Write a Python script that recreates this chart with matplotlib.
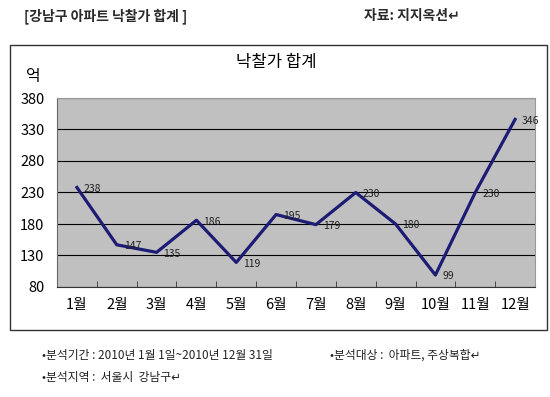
import matplotlib
matplotlib.use("Agg")
import matplotlib.pyplot as plt
from matplotlib.patches import Rectangle

plt.rcParams['font.family'] = ['Noto Sans CJK KR', 'DejaVu Sans']

# 데이터
months = ['1월', '2월', '3월', '4월', '5월', '6월', '7월', '8월', '9월', '10월', '11월', '12월']
values = [238, 147, 135, 186, 119, 195, 179, 230, 180, 99, 230, 346]
yticks = [80, 130, 180, 230, 280, 330, 380]

W, H = 550, 397
fig = plt.figure(figsize=(W / 100, H / 100), dpi=100)
fig.patch.set_facecolor('white')

def fx(px):
    return px / W

def fy(py):
    return 1 - py / H

# 머리글
fig.text(fx(24), fy(16), '[강남구 아파트 낙찰가 합계 ]', fontsize=10, fontweight='bold',
         va='center', ha='left', color='#2a2a2a')
fig.text(fx(364), fy(16), '자료: 지지옥션\u21b5', fontsize=10, fontweight='bold',
         va='center', ha='left', color='#2a2a2a')

# 차트 테두리
box = Rectangle((fx(10), fy(330)), fx(537), 285 / H, transform=fig.transFigure,
                fill=False, edgecolor='#333333', linewidth=1.0)
fig.patches.append(box)

fig.text(fx(276), fy(62), '낙찰가 합계', fontsize=12, ha='center', va='center')
fig.text(fx(33), fy(77), '억', fontsize=11.5, ha='center', va='center')

# 플롯 영역
ax = fig.add_axes([fx(57), fy(287), 478 / W, (287 - 98) / H])
ax.set_facecolor('#c0c0c0')
x = list(range(len(months)))
ax.plot(x, values, color='#1c1c74', linewidth=2.3, solid_joinstyle='round')
for xi, v in zip(x, values):
    ax.annotate(str(v), (xi, v), xytext=(5, -1), textcoords='offset points',
                fontsize=7.5, va='center', ha='left', color='#222222')

ax.set_xlim(-0.5, len(months) - 0.5)
ax.set_ylim(80, 380)
ax.set_yticks(yticks)
ax.yaxis.grid(True, color='black', linewidth=0.8)
ax.set_axisbelow(True)
ax.tick_params(axis='y', length=0, labelsize=10.5, pad=9)
ax.set_xticks(x)
ax.set_xticklabels(months, fontsize=10.5)
ax.tick_params(axis='x', length=0, pad=8)
ax.set_xticks([i + 0.5 for i in range(len(months) - 1)], minor=True)
ax.tick_params(axis='x', which='minor', direction='in', length=4, color='#333333')
for s in ['top', 'right']:
    ax.spines[s].set_color('#999999')
ax.spines['left'].set_color('#666666')
ax.spines['bottom'].set_color('#333333')

# 바닥글
fig.text(fx(42), fy(355), '•분석기간 : 2010년 1월 1일~2010년 12월 31일', fontsize=8.5,
         ha='left', va='center', color='#222222')
fig.text(fx(330), fy(355), '•분석대상 :  아파트, 주상복합\u21b5', fontsize=8.5,
         ha='left', va='center', color='#222222')
fig.text(fx(42), fy(378), '•분석지역 :  서울시  강남구\u21b5', fontsize=8.5,
         ha='left', va='center', color='#222222')

fig.savefig('out.png', dpi=100)
